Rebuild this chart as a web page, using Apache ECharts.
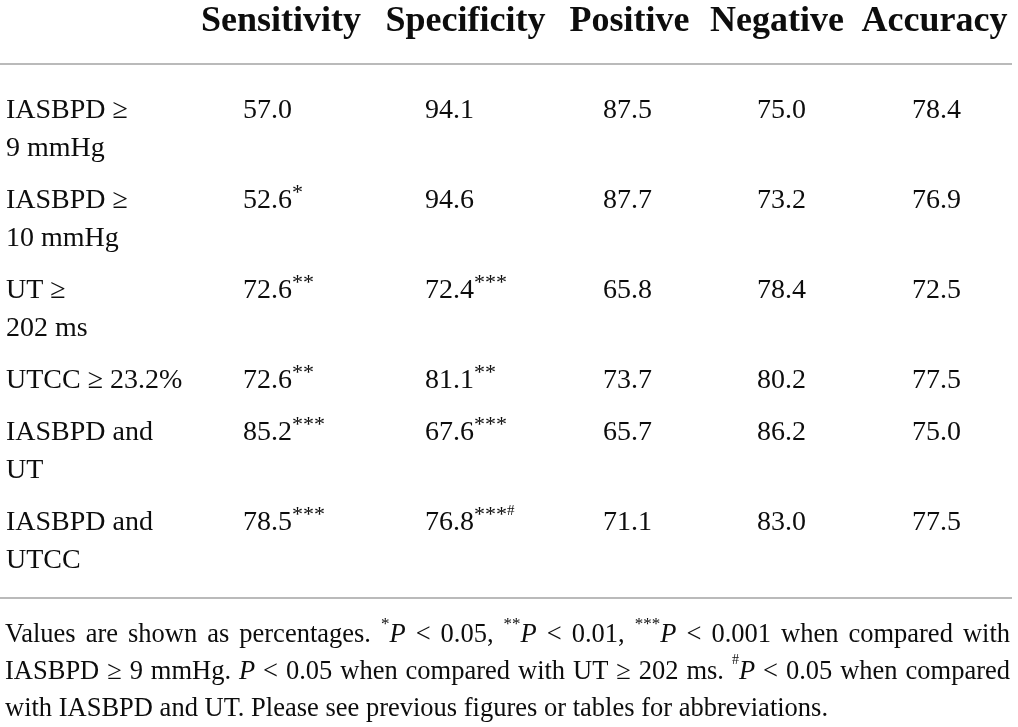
<!DOCTYPE html>
<html>
<head>
<meta charset="utf-8">
<script src="https://cdn.jsdelivr.net/npm/echarts@6/dist/echarts.min.js"></script>
<style>html,body{margin:0;padding:0;background:#fff}#c{width:1018px;height:727px}</style>
</head>
<body>
<div id="c"></div>
<script>
// ---- data ----
const headers = ["Sensitivity", "Specificity", "Positive", "Negative", "Accuracy"];
const rowLabels = ["IASBPD \u2265\n9 mmHg", "IASBPD \u2265\n10 mmHg", "UT \u2265\n202 ms", "UTCC \u2265 23.2%", "IASBPD and\nUT", "IASBPD and\nUTCC"];
const sensitivity = [57.0, 52.6, 72.6, 72.6, 85.2, 78.5];
const sensitivityMarks = ["", "*", "**", "**", "***", "***"];
const specificity = [94.1, 94.6, 72.4, 81.1, 67.6, 76.8];
const specificityMarks = ["", "", "***", "**", "***", "***#"];
const positive = [87.5, 87.7, 65.8, 73.7, 65.7, 71.1];
const negative = [75.0, 73.2, 78.4, 80.2, 86.2, 83.0];
const accuracy = [78.4, 76.9, 72.5, 77.5, 75.0, 77.5];
const footnoteLines = [
  "Values are shown as percentages. {s|*}{i|P} < 0.05, {s|**}{i|P} < 0.01, {s|***}{i|P} < 0.001 when compared with",
  "IASBPD \u2265 9 mmHg. {i|P} < 0.05 when compared with UT \u2265 202 ms. {h|#}{i|P} < 0.05 when compared",
  "with IASBPD and UT. Please see previous figures or tables for abbreviations."
];

// ---- layout ----
const FONT = "Liberation Serif";
const INK = "#0d0d0d";
const labelX = 6;
const headerCX = [281, 465.5, 629.5, 777, 934.5];
const valueX = [243, 425, 603, 757, 912];
const headerY = 22;
const firstRowY = 111, LINE = 38, PAD = 14;
const ruleY = [64, 598], ruleEnd = 1012;
const noteX = 5, noteTop = 616.5, noteLH = 37, noteRight = 1010;
const NOTE_FS = 26.5;
const noteStyles = {
  i: {fontStyle: "italic", fontSize: NOTE_FS},
  s: {fontSize: 17},
  h: {fontSize: 14}
};

const columns = [
  {vals: sensitivity, marks: sensitivityMarks},
  {vals: specificity, marks: specificityMarks},
  {vals: positive, marks: null},
  {vals: negative, marks: null},
  {vals: accuracy, marks: null}
];

const rowY = [];
let yc = firstRowY;
rowLabels.forEach((l) => { rowY.push(yc); yc += l.split("\n").length * LINE + PAD; });

function markRich(m) {
  if (!m) return "";
  const stars = m.replace(/#/g, "");
  const hash = m.indexOf("#") >= 0;
  return (stars ? "{s|" + stars + "}" : "") + (hash ? "{h|#}" : "");
}

const cellData = [];
columns.forEach((col, c) => {
  col.vals.forEach((v, r) => {
    cellData.push({value: [valueX[c], rowY[r]], text: v.toFixed(1) + markRich(col.marks ? col.marks[r] : "")});
  });
});

// justify footnote lines (all but last) like the typeset original
const mctx = document.createElement("canvas").getContext("2d");
function fontOf(st) {
  st = st || {};
  return (st.fontStyle || "normal") + " normal " + (st.fontSize || NOTE_FS) + "px '" + FONT + "'";
}
function measure(t, st) { mctx.font = fontOf(st); return mctx.measureText(t).width; }
function justify(line, last) {
  const parts = [];
  const re = /\{(\w)\|([^}]*)\}/g;
  let idx = 0, m;
  while ((m = re.exec(line))) {
    if (m.index > idx) parts.push({t: line.slice(idx, m.index)});
    parts.push({t: m[2], k: m[1]});
    idx = re.lastIndex;
  }
  if (idx < line.length) parts.push({t: line.slice(idx)});
  if (last) return line;
  let w = 0, gaps = 0;
  parts.forEach((p) => {
    w += measure(p.t, p.k ? noteStyles[p.k] : null);
    if (!p.k) gaps += (p.t.match(/ /g) || []).length;
  });
  const sp = measure(" ", null);
  const gw = sp + Math.max(0, (noteRight - noteX - w) / Math.max(gaps, 1));
  return parts.map((p) => p.k ? "{" + p.k + "|" + p.t + "}" :
    p.t.split(" ").join("{g|\u00a0}")).join("") + "\u0000" + gw;
}
const noteRich = {
  i: {fontFamily: FONT, fontStyle: "italic", fontSize: NOTE_FS, lineHeight: noteLH, color: INK},
  s: {fontFamily: FONT, fontSize: 17, lineHeight: 24, verticalAlign: "top", color: INK},
  h: {fontFamily: FONT, fontSize: 14, lineHeight: 20, verticalAlign: "top", color: INK}
};
const noteText = footnoteLines.map((l, i) => {
  const r = justify(l, i === footnoteLines.length - 1);
  const cut = r.indexOf("\u0000");
  if (cut < 0) return r;
  const gw = parseFloat(r.slice(cut + 1));
  const key = "g" + i;
  noteRich[key] = {fontFamily: FONT, fontSize: NOTE_FS, lineHeight: noteLH, width: gw, color: INK};
  return r.slice(0, cut).replace(/\{g\|/g, "{" + key + "|");
}).join("\n");

const baseScatter = {
  type: "scatter", symbolSize: 0, silent: true, animation: false,
  itemStyle: {color: "transparent", opacity: 1}, emphasis: {disabled: true}
};

const chart = echarts.init(document.getElementById("c"));
chart.setOption({
  animation: false,
  backgroundColor: "#fff",
  grid: {left: 0, right: 0, top: 0, bottom: 0},
  xAxis: {type: "value", min: 0, max: 1018, show: false},
  yAxis: {type: "value", min: 0, max: 727, inverse: true, show: false},
  series: [
    Object.assign({}, baseScatter, {
      data: headers.map((h, i) => ({value: [headerCX[i], headerY], name: h})),
      label: {show: true, opacity: 1, position: [0, 0], align: "center", verticalAlign: "middle",
        formatter: "{b}", fontFamily: FONT, fontWeight: "bold", fontSize: 36, color: INK}
    }),
    Object.assign({}, baseScatter, {
      data: rowLabels.map((l, i) => ({value: [labelX, rowY[i] - LINE / 2], name: l})),
      label: {show: true, opacity: 1, position: [0, 0], align: "left", verticalAlign: "top",
        formatter: "{b}", fontFamily: FONT, fontSize: 28, lineHeight: LINE, color: INK}
    }),
    Object.assign({}, baseScatter, {
      data: cellData,
      label: {show: true, opacity: 1, position: [0, 0], align: "left", verticalAlign: "middle",
        formatter: (p) => p.data.text, fontFamily: FONT, fontSize: 28, lineHeight: LINE, color: INK,
        rich: {
          s: {fontFamily: FONT, fontSize: 22, lineHeight: 32, verticalAlign: "top", color: INK},
          h: {fontFamily: FONT, fontSize: 15, lineHeight: 22, verticalAlign: "top", color: INK}
        }}
    }),
    Object.assign({}, baseScatter, {
      data: [{value: [noteX, noteTop], name: "note"}],
      label: {show: true, opacity: 1, position: [0, 0], align: "left", verticalAlign: "top",
        formatter: () => noteText, fontFamily: FONT, fontSize: NOTE_FS, lineHeight: noteLH, color: INK,
        rich: noteRich}
    }),
    ...ruleY.map((y) => ({
      type: "line", silent: true, animation: false, symbol: "none",
      data: [[0, y], [ruleEnd, y]],
      lineStyle: {color: "#a3a3a3", width: 1.5}
    }))
  ]
});
</script>
</body>
</html>
